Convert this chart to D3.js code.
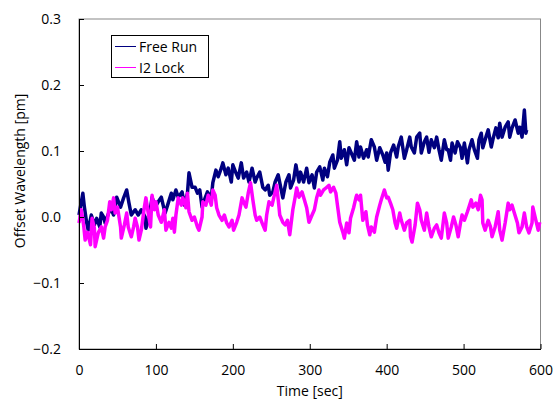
<!DOCTYPE html>
<html>
<head>
<meta charset="utf-8">
<script src="https://cdn.jsdelivr.net/npm/d3@7"></script>
<style>
  body { margin: 0; background: #fff; }
  svg text { font-family: "Open Sans", "DejaVu Sans", sans-serif; font-size: 14px; fill: #000; }
</style>
</head>
<body>
<div id="chart"></div>
<script>
var width = 553, height = 401;
var margin = {top: 19, right: 12, bottom: 52, left: 79};

// [time (sec), offset (pm)]
var freeRun = [[0,0.003],[5,0.036],[7,0.015],[10,-0.009],[12,-0.020],[16,0.003],[20,-0.012],[23,-0.002],[27,-0.015],[29,0.006],
  [32,0],[34,-0.009],[41,0.014],[45,0.003],[49,0.030],[54,0.015],[58,0.029],[62,0.041],[65,0.021],[68,0.003],
  [73,0.011],[77,0.003],[81,0.011],[86,0],[87,-0.017],[91,-0.002],[95,0.030],[99,0.015],[103,0.023],[107,0.030],
  [110,0.015],[112,0.006],[116,0.021],[120,0.036],[122,0.026],[126,0.041],[129,0.030],[134,0.038],[137,0.018],[141,0.036],
  [143,0.067],[147,0.045],[151,0.045],[154,0.036],[157,0.041],[160,0.015],[164,0.029],[167,0.038],[172,0.029],[174,0.052],
  [178,0.071],[181,0.061],[185,0.074],[187,0.082],[191,0.064],[194,0.074],[198,0.053],[200,0.079],[204,0.067],[207,0.059],
  [211,0.082],[214,0.059],[218,0.068],[221,0.053],[225,0.074],[229,0.053],[231,0.059],[235,0.068],[239,0.045],[242,0.041],
  [246,0.048],[248,0.033],[252,0.038],[255,0.053],[259,0.064],[261,0.052],[265,0.029],[269,0.053],[273,0.064],[275,0.044],
  [279,0.056],[282,0.079],[286,0.053],[288,0.068],[292,0.053],[296,0.074],[299,0.052],[303,0.064],[306,0.044],[309,0.068],
  [313,0.076],[317,0.056],[319,0.074],[323,0.061],[326,0.083],[330,0.094],[332,0.074],[336,0.086],[339,0.114],[341,0.089],
  [345,0.102],[348,0.079],[351,0.105],[354,0.097],[358,0.086],[361,0.114],[364,0.091],[366,0.106],[370,0.089],[374,0.102],
  [376,0.091],[380,0.117],[384,0.106],[387,0.086],[391,0.105],[395,0.094],[398,0.083],[400,0.097],[402,0.071],[405,0.097],
  [409,0.109],[413,0.091],[415,0.106],[419,0.121],[423,0.089],[426,0.102],[430,0.121],[432,0.106],[436,0.097],[439,0.121],
  [443,0.127],[445,0.097],[449,0.114],[452,0.121],[455,0.098],[458,0.117],[462,0.105],[465,0.121],[468,0.102],[471,0.086],
  [475,0.117],[478,0.102],[480,0.102],[483,0.086],[485,0.112],[489,0.097],[492,0.114],[496,0.105],[498,0.089],[501,0.112],
  [505,0.082],[507,0.102],[511,0.117],[514,0.102],[518,0.089],[520,0.117],[523,0.127],[525,0.105],[529,0.121],[532,0.132],
  [536,0.106],[538,0.117],[542,0.135],[545,0.120],[547,0.142],[550,0.121],[554,0.136],[558,0.144],[560,0.121],[563,0.135],
  [567,0.147],[571,0.127],[573,0.136],[576,0.121],[579,0.162],[581,0.127],[582,0.132]];

var i2Lock = [[0,-0.009],[3,0.011],[6,-0.012],[8,-0.035],[11,-0.023],[15,-0.042],[17,-0.002],[20,-0.017],[21,-0.045],[25,-0.024],
  [29,-0.015],[32,-0.032],[34,-0.015],[37,-0.005],[40,0.023],[42,0.011],[45,0.029],[47,0.006],[50,0.015],[54,-0.015],
  [55,-0.032],[59,-0.012],[62,0.006],[64,-0.015],[68,-0.030],[71,-0.015],[73,-0.002],[76,-0.015],[78,-0.035],[81,-0.020],
  [85,0.015],[87,0.029],[90,0.006],[93,-0.015],[95,0.033],[98,0.011],[100,0.023],[103,0.003],[107,-0.008],[111,0.011],
  [113,-0.020],[117,-0.008],[120,-0.017],[122,-0.002],[124,-0.023],[126,0.003],[129,0.029],[133,0.018],[135,0.029],[139,0.014],
  [141,0.036],[143,0.008],[147,-0.005],[150,0],[154,-0.015],[156,-0.020],[160,0],[161,0.023],[165,0.018],[168,0.033],
  [172,0.018],[174,0.041],[177,0.033],[179,0.014],[182,0.003],[186,-0.005],[189,0.003],[192,-0.009],[195,-0.015],[199,-0.005],
  [201,-0.020],[205,-0.008],[208,0.003],[212,0.029],[214,0.023],[217,0.015],[220,0.036],[223,0.052],[226,0.026],[229,0.003],
  [231,-0.005],[235,0],[239,-0.012],[242,-0.020],[244,0.003],[247,0.023],[251,0.018],[255,0.038],[257,0.048],[260,0.015],
  [261,0.003],[265,-0.008],[268,-0.012],[271,-0.005],[274,-0.027],[278,0.011],[281,0.030],[283,0.044],[286,0.030],[290,0.038],
  [293,0.026],[296,0.014],[299,-0.008],[303,0.003],[306,0.011],[309,0.029],[312,0.041],[314,0.033],[318,0.041],[321,0.044],
  [325,0.048],[327,0.038],[331,0.045],[334,0.036],[336,0.018],[339,-0.008],[343,-0.023],[345,-0.032],[348,-0.009],[351,-0.024],
  [353,-0.002],[357,0.014],[360,0.029],[361,0.033],[364,0.026],[366,0.033],[369,-0.005],[373,0.008],[375,-0.012],[378,-0.027],
  [380,-0.015],[384,-0.023],[387,0],[391,0.018],[393,0.026],[397,0.041],[400,0.029],[402,0.030],[405,0.021],[408,0.011],
  [411,-0.009],[413,-0.017],[417,0.006],[419,-0.005],[423,-0.020],[426,-0.009],[430,-0.005],[431,-0.030],[433,-0.038],[437,-0.012],
  [440,0.021],[443,0.011],[445,-0.005],[449,-0.020],[452,0.006],[455,-0.015],[458,-0.030],[462,-0.017],[465,-0.012],[468,-0.024],
  [471,-0.032],[475,0.006],[478,-0.009],[480,-0.032],[484,-0.015],[487,0],[490,-0.012],[493,-0.030],[496,-0.009],[498,0.003],
  [501,-0.005],[505,0.008],[507,0.015],[510,0.026],[512,0.015],[516,0.021],[519,0.011],[522,0.033],[524,0.026],[525,-0.009],
  [528,-0.020],[532,-0.005],[535,-0.015],[537,-0.030],[541,-0.015],[545,0.008],[547,-0.020],[550,-0.035],[554,-0.009],[558,0.021],
  [560,0.011],[563,0.018],[566,0.006],[570,-0.009],[572,-0.024],[576,-0.015],[579,0.006],[582,-0.015],[585,-0.024],[589,-0.009],
  [590,0.015],[594,-0.005],[597,-0.020],[599,-0.008]];

var xTicks = [0, 100, 200, 300, 400, 500, 600];
var yTicks = [-0.2, -0.1, 0.0, 0.1, 0.2, 0.3];
var seriesNames = ['Free Run', 'I2 Lock'];
var seriesColors = ['#000080', '#ff00ff'];

var svg = d3.select('#chart').append('svg')
            .attr('width', width).attr('height', height);

var x = d3.scaleLinear().domain([0, 600]).range([margin.left, width - margin.right - 0.5]);
var y = d3.scaleLinear().domain([-0.2, 0.3]).range([height - margin.bottom, margin.top]);

// plot frame (top/right in grey)
svg.append('rect')
  .attr('x', x(0)).attr('y', y(0.3))
  .attr('width', x(600) - x(0)).attr('height', y(-0.2) - y(0.3))
  .attr('fill', 'none').attr('stroke', '#888').attr('stroke-width', 1);

var line = d3.line()
  .x(function(d){ return x(d[0]); })
  .y(function(d){ return y(d[1]); });

[freeRun, i2Lock].forEach(function(data, i){
  svg.append('path')
    .datum(data)
    .attr('d', line)
    .attr('fill', 'none')
    .attr('stroke', seriesColors[i])
    .attr('stroke-width', 3.5)
    .attr('stroke-linejoin', 'round');
});

var fmt = d3.format('.1f');

var yAxis = svg.append('g')
  .attr('transform', 'translate(' + x(0) + ',0)')
  .call(d3.axisLeft(y).tickValues(yTicks).tickFormat(fmt)
        .tickSizeInner(-5).tickSizeOuter(0).tickPadding(18));

var xAxis = svg.append('g')
  .attr('transform', 'translate(0,' + y(-0.2) + ')')
  .call(d3.axisBottom(x).tickValues(xTicks).tickFormat(d3.format('d'))
        .tickSizeInner(-5).tickSizeOuter(0).tickPadding(16));

[xAxis, yAxis].forEach(function(g){
  g.selectAll('text').style('font-family', '"Open Sans", sans-serif').style('font-size', '14px').attr('fill', '#000');
  g.selectAll('line').attr('stroke', '#000');
  g.select('.domain').attr('stroke', '#000');
});

svg.append('text')
  .attr('x', (x(0) + x(600)) / 2).attr('y', 396)
  .attr('text-anchor', 'middle')
  .text('Time [sec]');

svg.append('text')
  .attr('transform', 'translate(25,' + 171 + ') rotate(-90)')
  .attr('text-anchor', 'middle')
  .text('Offset Wavelength [pm]');

// legend
var legend = svg.append('g').attr('transform', 'translate(111,35)');
legend.append('rect')
  .attr('x', 0.5).attr('y', 0.5).attr('width', 97).attr('height', 42)
  .attr('fill', '#fff').attr('stroke', '#000');

seriesNames.forEach(function(name, i){
  var ly = 11.5 + i * 21;
  legend.append('line')
    .attr('x1', 4).attr('x2', 25).attr('y1', ly).attr('y2', ly)
    .attr('stroke', seriesColors[i]).attr('stroke-width', 1);
  legend.append('text')
    .attr('x', 28).attr('y', ly + 5)
    .text(name);
});
</script>
</body>
</html>
